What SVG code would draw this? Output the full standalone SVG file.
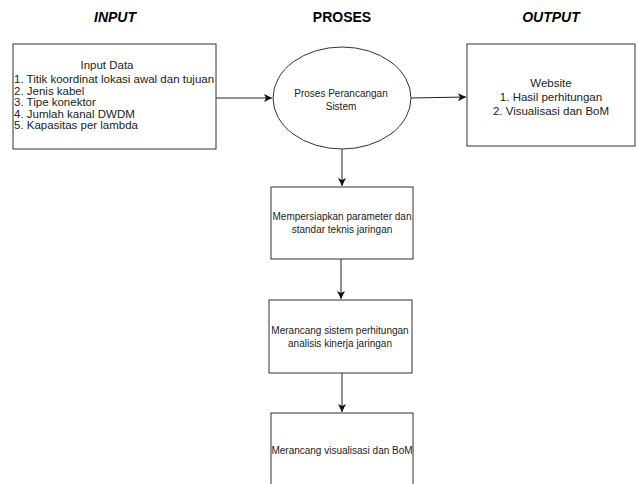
<svg xmlns="http://www.w3.org/2000/svg" width="638" height="484" viewBox="0 0 638 484">
<style>
.shape{fill:#fff;stroke:#333;stroke-width:1}
.conn{fill:none;stroke:#222;stroke-width:1}
text{font-family:"Liberation Sans",Arial,sans-serif;fill:#222}
.hd{font-size:14px;font-weight:bold;text-anchor:middle;fill:#000}
.t11{font-size:11.5px}
.t10{font-size:10px;text-anchor:middle}
.c{text-anchor:middle}
</style>
<defs>
<marker id="arr" markerWidth="10" markerHeight="10" refX="8" refY="4" orient="auto" markerUnits="userSpaceOnUse">
<path d="M0,0 L8,4 L0,8 L2,4 Z" fill="#111"/>
</marker>
</defs>
<rect width="638" height="484" fill="#fff"/>
<g id="headers">
<text class="hd" x="115" y="22" font-style="italic">INPUT</text>
<text class="hd" x="342" y="22">PROSES</text>
<text class="hd" x="551" y="22" font-style="italic">OUTPUT</text>
</g>
<g id="connectors">
<path class="conn" d="M216,98 L272,98" marker-end="url(#arr)"/>
<path class="conn" d="M411,98 L466,97" marker-end="url(#arr)"/>
<path class="conn" d="M342,149 L342,186" marker-end="url(#arr)"/>
<path class="conn" d="M341,259 L341,299" marker-end="url(#arr)"/>
<path class="conn" d="M342,373 L342,412" marker-end="url(#arr)"/>
</g>
<g id="input">
<rect class="shape" x="13" y="44" width="203" height="105"/>
<text class="t11 c" x="107" y="69">Input Data</text>
<text class="t11" x="14" y="83">1. Titik koordinat lokasi awal dan tujuan</text>
<text class="t11" x="14" y="94.5">2. Jenis kabel</text>
<text class="t11" x="14" y="106">3. Tipe konektor</text>
<text class="t11" x="14" y="117.5">4. Jumlah kanal DWDM</text>
<text class="t11" x="14" y="129">5. Kapasitas per lambda</text>
</g>
<g id="proses">
<ellipse class="shape" cx="342" cy="98" rx="69" ry="51"/>
<text class="t10" x="341" y="97">Proses Perancangan</text>
<text class="t10" x="341" y="110">Sistem</text>
</g>
<g id="output">
<rect class="shape" x="467" y="44" width="168" height="102"/>
<text class="t11 c" x="551" y="87">Website</text>
<text class="t11 c" x="551" y="101">1. Hasil perhitungan</text>
<text class="t11 c" x="551" y="115">2. Visualisasi dan BoM</text>
</g>
<g id="step1">
<rect class="shape" x="271" y="187" width="142" height="72"/>
<text class="t10" x="342" y="220">Mempersiapkan parameter dan</text>
<text class="t10" x="342" y="233">standar teknis jaringan</text>
</g>
<g id="step2">
<rect class="shape" x="269" y="300" width="143" height="73"/>
<text class="t10" x="340" y="334">Merancang sistem perhitungan</text>
<text class="t10" x="340" y="347">analisis kinerja jaringan</text>
</g>
<g id="step3">
<rect class="shape" x="271" y="413" width="142" height="90"/>
<text class="t10" x="342" y="454">Merancang visualisasi dan BoM</text>
</g>
</svg>
